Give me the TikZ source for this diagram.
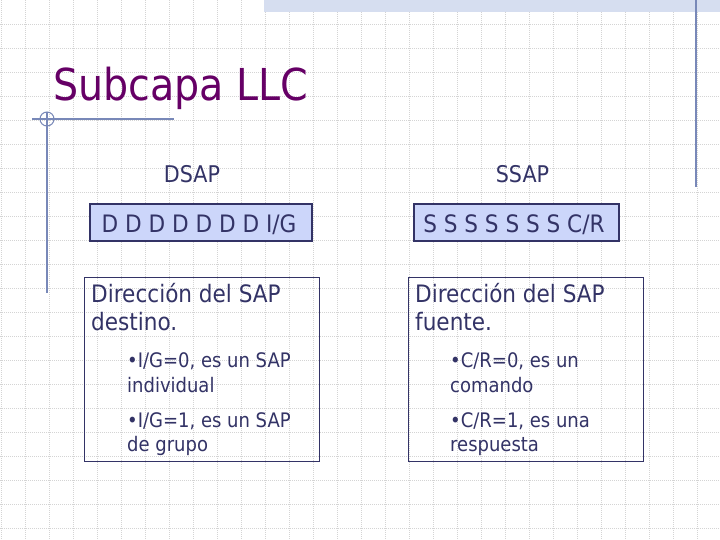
\documentclass[tikz,border=0pt]{standalone}
\usepackage{fontspec}
\setmainfont{DejaVu Sans Condensed}
\definecolor{titlecol}{RGB}{102,0,102}
\definecolor{txtcol}{RGB}{51,51,102}
\definecolor{boxfill}{RGB}{204,214,250}
\definecolor{decocol}{RGB}{120,136,184}
\definecolor{bandcol}{RGB}{214,222,240}
\definecolor{gridcol}{RGB}{212,212,212}
\begin{document}
\begin{tikzpicture}[x=1pt,y=-1pt,
  gridline/.style={draw=gridcol,line width=0.7pt,dash pattern=on 1pt off 1pt},
  deco/.style={draw=decocol,line width=1.2pt},
  txt/.style={anchor=base west,inner sep=0pt,text=txtcol},
  ctxt/.style={anchor=base,inner sep=0pt,text=txtcol},
  big/.style={font=\fontsize{24}{28}\selectfont},
  small/.style={font=\fontsize{20}{24}\selectfont},
  smallbox/.style={draw=txtcol,line width=1.4pt,fill=boxfill,minimum width=222pt,minimum height=37pt,inner sep=0pt},
  bigbox/.style={draw=txtcol,line width=1.4pt,minimum width=235pt,minimum height=184pt,inner sep=0pt,anchor=north west}]
\useasboundingbox (0,0) rectangle (720,540);
\fill[white] (0,0) rectangle (720,540);
% grid
\foreach \x in {1,25,...,720} \draw[gridline] (\x,0) -- (\x,540);
\foreach \y in {24,48,...,540} \draw[gridline] (0,\y) -- (720,\y);
% top band and right line
\fill[bandcol] (264,0) rectangle (720,12);
\draw[deco,line width=1.5pt] (696,0) -- (696,187);
% left decoration
\draw[deco] (32,119) -- (174,119);
\draw[deco] (47,112) -- (47,293);
\draw[deco,line width=1pt] (47,119) circle (7);
% title
\node[anchor=base west,inner sep=0pt,text=titlecol,font=\fontsize{44}{52}\selectfont] (title) at (53,101) {Subcapa LLC};
% headers
\node[ctxt,font=\fontsize{23}{28}\selectfont] (dsap) at (192,183) {DSAP};
\node[ctxt,font=\fontsize{23}{28}\selectfont] (ssap) at (522.5,183) {SSAP};
% field boxes
\node[smallbox] (dbox) at (201,222.5) {};
\node[ctxt,big] (dbits) at (199,233) {D D D D D D D I/G};
\node[smallbox,minimum width=205pt] (sbox) at (516.5,222.5) {};
\node[ctxt,big] (sbits) at (514,233) {S S S S S S S C/R};
% description boxes
\node[bigbox] (dbig) at (84,277) {};
\node[bigbox] (sbig) at (408,277) {};
\node[txt,big] (d1) at (91,302) {Dirección del SAP};
\node[txt,big] (d2) at (91,330) {destino.};
\node[txt,small] (d3) at (127,367) {•I/G=0, es un SAP};
\node[txt,small] (d4) at (127,392) {individual};
\node[txt,small] (d5) at (127,427) {•I/G=1, es un SAP};
\node[txt,small] (d6) at (127,451) {de grupo};
\node[txt,big] (s1) at (415,302) {Dirección del SAP};
\node[txt,big] (s2) at (415,330) {fuente.};
\node[txt,small] (s3) at (450,367) {•C/R=0, es un};
\node[txt,small] (s4) at (450,392) {comando};
\node[txt,small] (s5) at (450,427) {•C/R=1, es una};
\node[txt,small] (s6) at (450,451) {respuesta};
\end{tikzpicture}
\end{document}
